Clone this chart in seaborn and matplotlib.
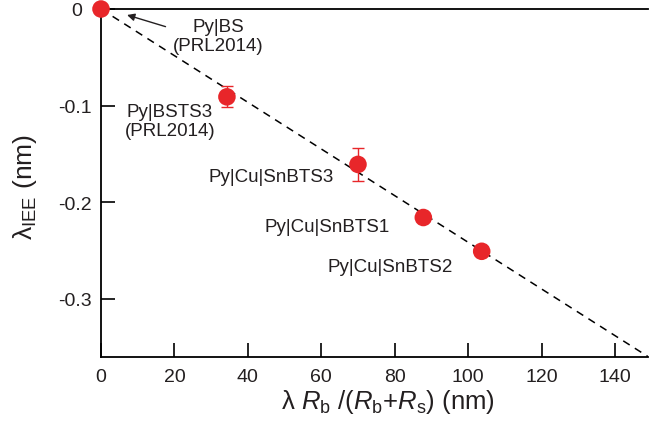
import matplotlib
matplotlib.use("Agg")
import matplotlib.pyplot as plt
import matplotlib.transforms as mtransforms
import seaborn as sns
import pandas as pd

sns.set_theme(style="ticks")
plt.rcParams['font.family'] = ['Liberation Sans', 'DejaVu Sans']
plt.rcParams['mathtext.fontset'] = 'custom'
plt.rcParams['mathtext.rm'] = 'Liberation Sans'
plt.rcParams['mathtext.it'] = 'Liberation Sans:italic'

samples = ["Py|BS", "Py|BSTS3", "Py|Cu|SnBTS3", "Py|Cu|SnBTS1", "Py|Cu|SnBTS2"]
x_vals = [0.0, 34.3, 70.0, 87.8, 103.7]
y_vals = [0.0, -0.091, -0.161, -0.216, -0.251]
y_err = [0.0, 0.011, 0.017, 0.0, 0.0]
fit_x = [0.0, 150.0]
fit_y = [0.0, -0.3625]
x_ticks = [0, 20, 40, 60, 80, 100, 120, 140]
y_ticks = [0, -0.1, -0.2, -0.3]
y_ticklabels = ["0", "-0.1", "-0.2", "-0.3"]

df = pd.DataFrame({"x": x_vals, "y": y_vals, "err": y_err, "sample": samples})
fit = pd.DataFrame({"x": fit_x, "y": fit_y})

fig = plt.figure(figsize=(6.49, 4.35), dpi=100)
ax = fig.add_axes([101/649, 77/435, 547/649, 348/435])

red = "#e8262a"
txt = "#231f20"

sns.lineplot(data=fit, x="x", y="y", ax=ax, color="black", linestyle=(0, (5, 4)), lw=1.1)
ax.errorbar(df["x"], df["y"], yerr=df["err"], fmt="none", ecolor=red, elinewidth=1.0, capsize=4, capthick=1.0, zorder=3)
sns.scatterplot(data=df, x="x", y="y", ax=ax, color=red, s=160, edgecolor="none", zorder=4, clip_on=False)

ax.set_xlim(0, 149)
ax.set_ylim(-0.3605, 0)
ax.set_xticks(x_ticks)
ax.set_yticks(y_ticks)
ax.set_yticklabels(y_ticklabels)
ax.tick_params(direction="in", length=10, width=1.2, labelsize=14, colors="black", labelcolor=txt)
ax.tick_params(axis="x", pad=8)
ax.tick_params(axis="y", pad=7)
for s in ["left", "bottom", "top"]:
    ax.spines[s].set_linewidth(1.3)
    ax.spines[s].set_color("black")
ax.spines["right"].set_visible(False)

# the "0" label on the y axis sits a little further left in the reference
lbl0 = ax.get_yticklabels()[0]
lbl0.set_transform(lbl0.get_transform() + mtransforms.ScaledTranslation(-9/100, 1/100, fig.dpi_scale_trans))

ax.set_xlabel(r"λ $R_{\rm b}$ $/$($R_{\rm b}$+$R_{\rm s}$) (nm)", fontsize=18.5, color=txt)
ax.xaxis.set_label_coords(0.525, -0.085)
ax.set_ylabel(r"λ$_{\rm IEE}$ (nm)", fontsize=19, color=txt)
ax.yaxis.set_label_coords(-0.113, 0.49)

fs = 13.5
ax.annotate("Py|BS\n(PRL2014)", xy=(7.1, -0.0062), xytext=(31.9, -0.028), ha="center", va="center",
            fontsize=fs, color=txt, linespacing=1.15,
            arrowprops=dict(arrowstyle="-|>", color=txt, lw=1.0, shrinkA=3, shrinkB=0,
                            mutation_scale=11, relpos=(0.0, 0.7)))
ax.text(18.8, -0.116, "Py|BSTS3\n(PRL2014)", ha="center", va="center", fontsize=fs, color=txt, linespacing=1.15)
ax.text(46.3, -0.174, "Py|Cu|SnBTS3", ha="center", va="center", fontsize=fs, color=txt)
ax.text(61.7, -0.2248, "Py|Cu|SnBTS1", ha="center", va="center", fontsize=fs, color=txt)
ax.text(78.9, -0.2668, "Py|Cu|SnBTS2", ha="center", va="center", fontsize=fs, color=txt)

fig.savefig("out.png", dpi=100)
